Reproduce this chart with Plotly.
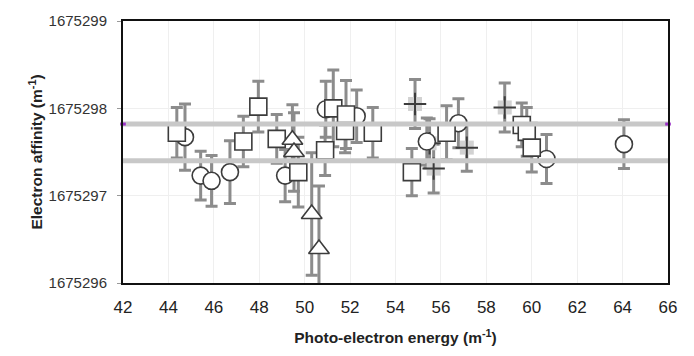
import plotly.graph_objects as go

# Data (x: photo-electron energy, y: electron affinity, e: error)
circ_x = [44.73, 45.42, 45.90, 46.71, 49.14, 50.93, 52.29, 55.38, 56.77, 60.65, 64.06]
circ_y = [1675297.67, 1675297.23, 1675297.17, 1675297.27, 1675297.23, 1675297.99,
          1675297.91, 1675297.62, 1675297.83, 1675297.42, 1675297.59]
circ_e = [0.38, 0.28, 0.29, 0.36, 0.30, 0.32, 0.30, 0.27, 0.28, 0.28, 0.28]

sq_x = [44.37, 47.30, 47.96, 48.77, 49.72, 50.90, 51.26, 51.82, 51.78, 53.00,
        54.72, 56.25, 59.56, 59.78, 60.00]
sq_y = [1675297.72, 1675297.62, 1675298.02, 1675297.65, 1675297.27, 1675297.52,
        1675298.00, 1675297.93, 1675297.74, 1675297.72, 1675297.27, 1675297.72,
        1675297.81, 1675297.73, 1675297.55]
sq_e = [0.29, 0.29, 0.29, 0.28, 0.40, 0.29, 0.44, 0.39, 0.25, 0.29, 0.27, 0.31,
        0.25, 0.28, 0.28]

tri_x = [49.46, 49.53, 50.31, 50.63]
tri_y = [1675297.64, 1675297.50, 1675296.79, 1675296.39]
tri_e = [0.40, 0.45, 0.70, 0.72]

cr_x = [54.86, 55.50, 55.68, 57.14, 58.81]
cr_y = [1675298.05, 1675297.60, 1675297.31, 1675297.55, 1675298.01]
cr_e = [0.28, 0.28, 0.28, 0.27, 0.28]

line_x = [42, 66]
upper_val = 1675297.82
lower_val = 1675297.40

x_ticks = list(range(42, 67, 2))
y_ticks = [1675296, 1675297, 1675298, 1675299]

EB = "#8c8c8c"
MK = "#3c3c3c"

fig = go.Figure()

# error bars first (behind all markers)
for xs, ys, es in [(circ_x, circ_y, circ_e), (sq_x, sq_y, sq_e), (tri_x, tri_y, tri_e), (cr_x, cr_y, cr_e)]:
    fig.add_trace(go.Scatter(
        x=xs, y=ys, mode="markers", marker=dict(size=1, opacity=0),
        error_y=dict(type="data", array=es, color=EB, thickness=3, width=6),
        cliponaxis=False, showlegend=False, hoverinfo="skip"))

# cross background blobs
fig.add_trace(go.Scatter(x=cr_x, y=cr_y, mode="markers",
                         marker=dict(symbol="square", size=14, color="#d2d2d2", line=dict(width=0)),
                         showlegend=False))
fig.add_trace(go.Scatter(x=cr_x, y=cr_y, mode="markers",
                         marker=dict(symbol="cross-thin", size=16, line=dict(width=2, color=MK)),
                         showlegend=False))

for xs, ys, sym, sz in [(circ_x, circ_y, "circle", 17), (sq_x, sq_y, "square", 17),
                        (tri_x, tri_y, "triangle-up", 18)]:
    fig.add_trace(go.Scatter(
        x=xs, y=ys, mode="markers",
        marker=dict(symbol=sym, size=sz, color="white", line=dict(width=1.6, color=MK)),
        cliponaxis=False, showlegend=False))

# reference lines
for v in (upper_val, lower_val):
    fig.add_trace(go.Scatter(x=line_x, y=[v, v], mode="lines",
                             line=dict(color="#c8c8c8", width=5),
                             showlegend=False, hoverinfo="skip"))
fig.add_trace(go.Scatter(x=line_x, y=[upper_val, upper_val], mode="markers",
                         marker=dict(symbol="line-ew", size=4, line=dict(width=3, color="#9b30c8")),
                         cliponaxis=False, showlegend=False, hoverinfo="skip"))

font = "Liberation Sans, Arial, sans-serif"
fig.update_layout(
    width=694, height=356,
    margin=dict(l=123, r=26, t=15, b=72),
    paper_bgcolor="white", plot_bgcolor="white",
    font=dict(family=font, color="#222"),
    xaxis=dict(range=[42, 66], tickvals=x_ticks, ticktext=[str(t) for t in x_ticks],
               showgrid=True, gridcolor="#efefef", gridwidth=1,
               zeroline=False, showline=True, linecolor="#111", linewidth=2, mirror=True,
               ticks="", tickfont=dict(size=17, color="#222"), ticklabelstandoff=8,
               title=dict(text="<b>Photo-electron energy (m<sup>-1</sup>)</b>",
                          font=dict(size=15.5, color="#222"), standoff=16)),
    yaxis=dict(range=[1675296, 1675299], tickvals=y_ticks, ticktext=[str(t) for t in y_ticks],
               showgrid=True, gridcolor="#efefef", gridwidth=1,
               zeroline=False, showline=True, linecolor="#111", linewidth=2, mirror=True,
               ticks="outside", ticklen=4, tickcolor="#999",
               tickfont=dict(size=15, color="#333"), ticklabelstandoff=7,
               title=dict(text="<b>Electron affinity (m<sup>-1</sup>)</b>",
                          font=dict(size=15.5, color="#222"), standoff=2)),
)

fig.write_html("out.html")
